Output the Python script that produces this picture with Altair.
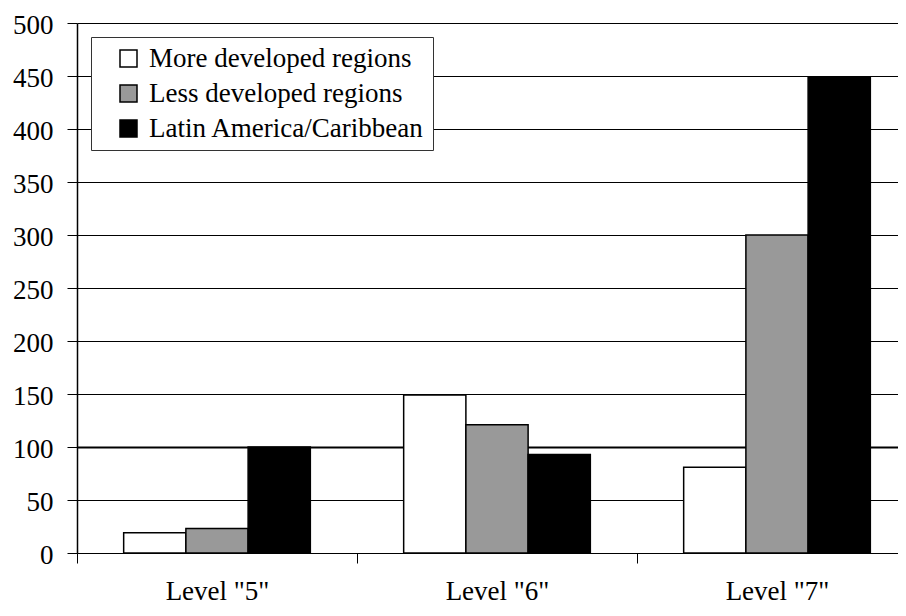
import altair as alt
import pandas as pd

levels = ['Level "5"', 'Level "6"', 'Level "7"']
series = ["More developed regions", "Less developed regions", "Latin America/Caribbean"]
more_developed = [19, 149, 81]
less_developed = [23, 121, 300]
latin_america = [100, 93, 449]
colors = ["#ffffff", "#999999", "#000000"]
y_ticks = [0, 50, 100, 150, 200, 250, 300, 350, 400, 450, 500]

rows = []
for i, lv in enumerate(levels):
    for s, vals in zip(series, [more_developed, less_developed, latin_america]):
        rows.append({"level": lv, "series": s, "value": vals[i]})
df = pd.DataFrame(rows)

FONT = "Times New Roman, Liberation Serif, serif"

chart = alt.Chart(df).mark_bar(stroke="black", strokeWidth=1.5).encode(
    x=alt.X(
        "level:N", sort=levels,
        scale=alt.Scale(paddingInner=0, paddingOuter=0, range=[0, 840]),
        axis=alt.Axis(
            title=None, labelAngle=0, tickBand="extent", grid=False,
            domainColor="black", domainWidth=1, tickColor="black", tickSize=10,
            labelFontSize=27, labelColor="black",
            labelBaseline="alphabetic", labelPadding=36,
        ),
    ),
    xOffset=alt.XOffset(
        "series:N", sort=series,
        scale=alt.Scale(paddingInner=0, paddingOuter=0.75),
    ),
    y=alt.Y(
        "value:Q",
        scale=alt.Scale(domain=[0, 500], nice=False),
        axis=alt.Axis(
            title=None, values=y_ticks, grid=True, gridColor="black",
            gridWidth=alt.condition("datum.value == 100", alt.value(2), alt.value(1)),
            domainColor="black", domainWidth=1.5, tickColor="black", tickSize=10,
            labelFontSize=27, labelColor="black", labelPadding=14,
            labelOffset=2,
        ),
    ),
    fill=alt.Fill(
        "series:N", sort=series,
        scale=alt.Scale(domain=series, range=colors),
        legend=alt.Legend(
            title=None, orient="none", legendX=14, legendY=14,
            strokeColor="#333333", fillColor="white", padding=8,
            labelFontSize=27, labelColor="black",
            symbolType="square", symbolSize=289, symbolStrokeColor="black",
            symbolStrokeWidth=1.5, symbolOffset=16, labelOffset=7, rowPadding=7,
            labelLimit=500,
        ),
    ),
).properties(
    width=821, height=530,
    autosize=alt.AutoSizeParams(type="none"),
    padding={"left": 69, "top": 15, "right": 0, "bottom": 55},
).configure(
    font=FONT
).configure_axis(
    labelFont=FONT
).configure_legend(
    labelFont=FONT
).configure_view(stroke=None)

chart.save("out.html", embed_options={"renderer": "svg", "actions": False})
